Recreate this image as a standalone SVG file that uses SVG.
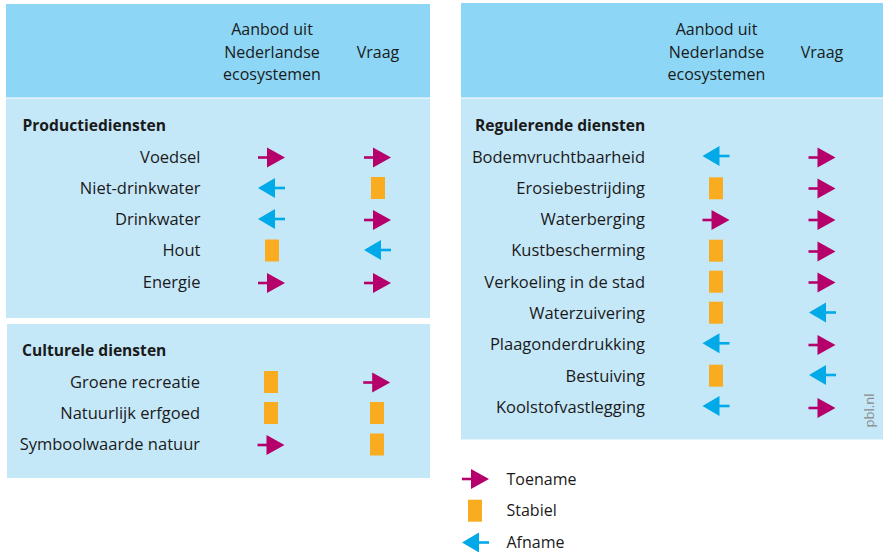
<svg xmlns="http://www.w3.org/2000/svg" xmlns:xlink="http://www.w3.org/1999/xlink" width="883" height="552" viewBox="0 0 883 552">
<style>
text{font-family:"Open Sans","Noto Sans","Liberation Sans",sans-serif;font-size:16px;fill:#1a1a1a}
.b{font-weight:bold;font-size:15.6px}
.r{text-anchor:end;font-size:16.5px}
.m{text-anchor:middle}
.hd{fill:#8dd6f5}
.bd{fill:#c5e8f9}
.pbl{font-size:13px;fill:#8a8a8a}
</style>
<defs>
<g id="inc"><line x1="-13.5" y1="0" x2="-3.5" y2="0" stroke="#b5006b" stroke-width="2.6"/><polygon points="-4.5,-10 13.5,0 -4.5,10" fill="#b5006b"/></g>
<g id="dec"><line x1="3" y1="0" x2="13.5" y2="0" stroke="#00a9e8" stroke-width="2.6"/><polygon points="-13.5,0 3.5,-10 3.5,10" fill="#00a9e8"/></g>
<g id="stb"><rect x="-7" y="-11" width="14" height="22" fill="#f9ac20"/></g>
</defs>
<rect width="883" height="552" fill="#ffffff"/>

<g id="panel-productie">
<rect class="hd" x="6" y="4" width="424" height="93.5"/>
<rect class="bd" x="6" y="98.5" width="424" height="219.5"/>
<text class="m" x="272" y="35">Aanbod uit</text>
<text class="m" x="272" y="57.5">Nederlandse</text>
<text class="m" x="272" y="80">ecosystemen</text>
<text class="m" x="378" y="57.5">Vraag</text>
<text class="b" x="22.5" y="131">Productiediensten</text>
<g id="row-voedsel"><text class="r" x="200.5" y="162.5">Voedsel</text><use xlink:href="#inc" x="271.5" y="157.5"/><use xlink:href="#inc" x="377.5" y="157.5"/></g>
<g id="row-nietdrinkwater"><text class="r" x="200.5" y="193.8">Niet-drinkwater</text><use xlink:href="#dec" x="271.5" y="188"/><use xlink:href="#stb" x="378" y="188"/></g>
<g id="row-drinkwater"><text class="r" x="200.5" y="225.1">Drinkwater</text><use xlink:href="#dec" x="271.5" y="219"/><use xlink:href="#inc" x="377.5" y="220"/></g>
<g id="row-hout"><text class="r" x="200.5" y="256.4">Hout</text><use xlink:href="#stb" x="272" y="250.5"/><use xlink:href="#dec" x="377.5" y="250"/></g>
<g id="row-energie"><text class="r" x="200.5" y="287.7">Energie</text><use xlink:href="#inc" x="271.5" y="283"/><use xlink:href="#inc" x="377.5" y="283"/></g>
</g>

<g id="panel-cultureel">
<rect class="bd" x="7" y="324" width="423" height="154"/>
<text class="b" x="22" y="356">Culturele diensten</text>
<g id="row-groene"><text class="r" x="200" y="387.5">Groene recreatie</text><use xlink:href="#stb" x="271" y="382"/><use xlink:href="#inc" x="376.7" y="382.5"/></g>
<g id="row-erfgoed"><text class="r" x="200" y="418.8">Natuurlijk erfgoed</text><use xlink:href="#stb" x="271" y="413"/><use xlink:href="#stb" x="377" y="413"/></g>
<g id="row-symbool"><text class="r" x="200" y="450.1">Symboolwaarde natuur</text><use xlink:href="#inc" x="271" y="445"/><use xlink:href="#stb" x="377" y="444.5"/></g>
</g>

<g id="panel-regulerend">
<rect class="hd" x="461" y="3" width="422" height="94.5"/>
<rect class="bd" x="461" y="98.5" width="422" height="341"/>
<text class="m" x="716.5" y="35">Aanbod uit</text>
<text class="m" x="716.5" y="57.5">Nederlandse</text>
<text class="m" x="716.5" y="80">ecosystemen</text>
<text class="m" x="822" y="57.5">Vraag</text>
<text class="b" x="475" y="131">Regulerende diensten</text>
<g id="row-bodem"><text class="r" x="645" y="162.5">Bodemvruchtbaarheid</text><use xlink:href="#dec" x="716" y="156"/><use xlink:href="#inc" x="822" y="157.5"/></g>
<g id="row-erosie"><text class="r" x="645" y="193.8">Erosiebestrijding</text><use xlink:href="#stb" x="716" y="188.3"/><use xlink:href="#inc" x="822" y="188.5"/></g>
<g id="row-waterberging"><text class="r" x="645" y="225.1">Waterberging</text><use xlink:href="#inc" x="716" y="220"/><use xlink:href="#inc" x="822" y="220"/></g>
<g id="row-kust"><text class="r" x="645" y="256.4">Kustbescherming</text><use xlink:href="#stb" x="716" y="250.7"/><use xlink:href="#inc" x="822" y="251.5"/></g>
<g id="row-verkoeling"><text class="r" x="645" y="287.7">Verkoeling in de stad</text><use xlink:href="#stb" x="716" y="281.7"/><use xlink:href="#inc" x="822" y="282.5"/></g>
<g id="row-waterzuivering"><text class="r" x="645" y="319">Waterzuivering</text><use xlink:href="#stb" x="716" y="312.7"/><use xlink:href="#dec" x="822.5" y="312.5"/></g>
<g id="row-plaag"><text class="r" x="645" y="350.3">Plaagonderdrukking</text><use xlink:href="#dec" x="716" y="343.3"/><use xlink:href="#inc" x="822" y="345"/></g>
<g id="row-bestuiving"><text class="r" x="645" y="381.6">Bestuiving</text><use xlink:href="#stb" x="716" y="375.7"/><use xlink:href="#dec" x="822.5" y="375"/></g>
<g id="row-koolstof"><text class="r" x="645" y="412.9">Koolstofvastlegging</text><use xlink:href="#dec" x="716" y="406"/><use xlink:href="#inc" x="822" y="408"/></g>
<text class="pbl m" transform="translate(873.5,410.5) rotate(-90)">pbl.nl</text>
</g>

<g id="legend">
<g id="leg-toename"><use xlink:href="#inc" x="475.5" y="479"/><text x="506.5" y="484.5">Toename</text></g>
<g id="leg-stabiel"><use xlink:href="#stb" x="475" y="510.7"/><text x="506.5" y="516">Stabiel</text></g>
<g id="leg-afname"><use xlink:href="#dec" x="475.5" y="542.5"/><text x="506.5" y="547.5">Afname</text></g>
</g>
</svg>
